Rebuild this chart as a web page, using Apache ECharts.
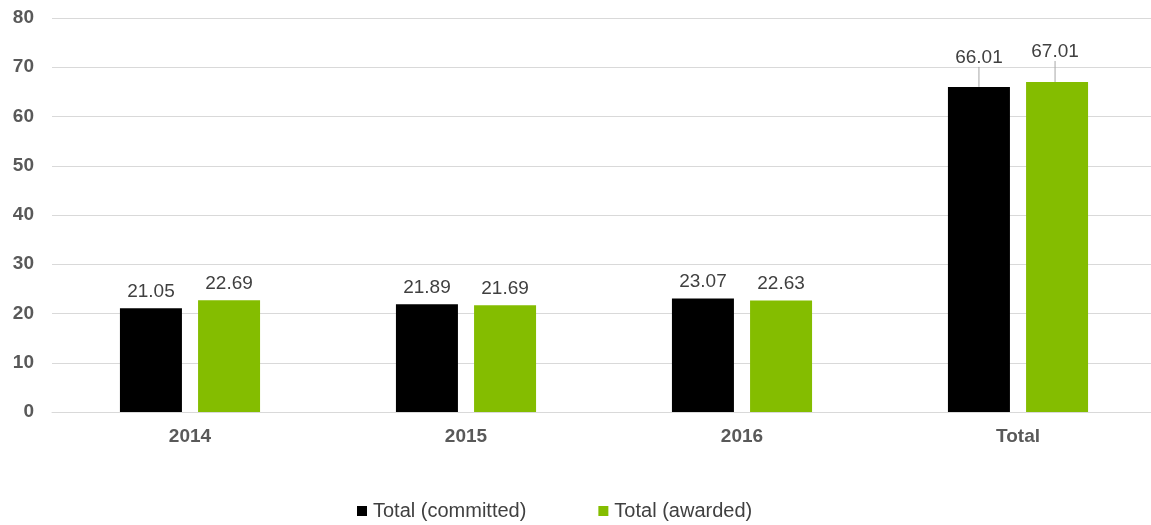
<!DOCTYPE html>
<html>
<head>
<meta charset="utf-8">
<script src="https://cdn.jsdelivr.net/npm/echarts@6/dist/echarts.min.js"></script>
<style>
  html, body { margin: 0; padding: 0; background: #fff; }
  #main { width: 1151px; height: 525px; }
</style>
</head>
<body>
<div id="main"></div>
<script>
var categories = ['2014', '2015', '2016', 'Total']
var committed = [21.05, 21.89, 23.07, 66.01]
var awarded = [22.69, 21.69, 22.63, 67.01]
var yTicks = { min: 0, max: 80, interval: 10 }

var chartObj = echarts.init(document.getElementById('main'))

// 总计那组的标签抬高，用引导线连到柱顶
function raiseTotal(params) {
  if (params.dataIndex === 3) {
    return params.seriesIndex === 0 ? { dy: -13 } : { dy: -14, dx: -2 }
  }
  return {}
}

// 只有 Total 显示引导线
function toItems(values) {
  return values.map(function (v, i) {
    return {
      value: v,
      labelLine: { show: i === 3, lineStyle: { color: '#a6a6a6', width: 1 } }
    }
  })
}

var labelStyle = {
  show: true,
  position: 'top',
  distance: 7,
  color: '#404040',
  fontSize: 19,
  fontFamily: 'Liberation Sans, Arial, sans-serif',
  formatter: function (p) { return p.value.toFixed(2) }
}

var option = {
  animation: false,
  textStyle: { fontFamily: 'Liberation Sans, Arial, sans-serif' },
  grid: {
    top: 18,
    left: 52,
    width: 1104,
    bottom: 113,
    containLabel: false,
    outerBoundsMode: 'none'
  },
  legend: {
    bottom: -1,
    left: 352,
    itemWidth: 10,
    itemHeight: 10,
    itemGap: 72,
    icon: 'rect',
    textStyle: { color: '#404040', fontSize: 20, padding: [0, 0, 0, 1] },
    data: ['Total (committed)', 'Total (awarded)']
  },
  xAxis: {
    type: 'category',
    data: categories,
    axisTick: { show: false },
    axisLine: { lineStyle: { color: '#d9d9d9' } },
    axisLabel: {
      color: '#595959',
      fontSize: 19,
      fontWeight: 'bold',
      margin: 15
    }
  },
  yAxis: {
    type: 'value',
    min: yTicks.min,
    max: yTicks.max,
    interval: yTicks.interval,
    axisLine: { show: false },
    axisTick: { show: false },
    axisLabel: {
      color: '#595959',
      fontSize: 19,
      fontWeight: 'bold',
      margin: 18
    },
    splitLine: { lineStyle: { color: '#d9d9d9' } }
  },
  series: [
    {
      name: 'Total (committed)',
      type: 'bar',
      data: toItems(committed),
      barWidth: 62,
      barGap: '26%',
      itemStyle: { color: '#000000' },
      label: labelStyle,
      labelLayout: raiseTotal,
      labelLine: { show: true, lineStyle: { color: '#a6a6a6', width: 1 } }
    },
    {
      name: 'Total (awarded)',
      type: 'bar',
      data: toItems(awarded),
      barWidth: 62,
      itemStyle: { color: '#84bd00' },
      label: labelStyle,
      labelLayout: raiseTotal,
      labelLine: { show: true, lineStyle: { color: '#a6a6a6', width: 1 } }
    }
  ]
}

chartObj.setOption(option, true)
</script>
</body>
</html>
